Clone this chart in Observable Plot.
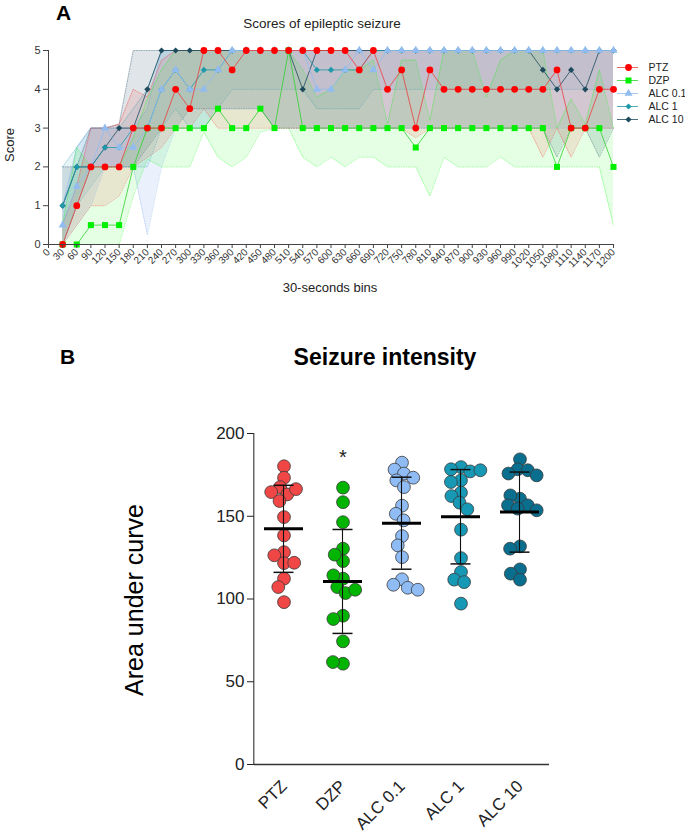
<!DOCTYPE html>
<html><head><meta charset="utf-8">
<script src="https://cdn.jsdelivr.net/npm/d3@7"></script>
<script src="https://cdn.jsdelivr.net/npm/@observablehq/plot@0.6"></script>
<style>
body{margin:0;background:#fff;font-family:"Liberation Sans",Arial,sans-serif;}
#wrap{position:relative;width:685px;height:839px;overflow:hidden;background:#fff;}
#wrap > *{position:absolute;}
</style></head><body><div id="wrap"></div>
<script>
// ---------------- DATA: panel A ----------------
const bins = [30,60,90,120,150,180,210,240,270,300,330,360,390,420,450,480,510,540,570,600,630,660,690,720,750,780,810,840,870,900,930,960,990,1020,1050,1080,1110,1140,1170,1200];
const binTicks = [0,30,60,90,120,150,180,210,240,270,300,330,360,390,420,450,480,510,540,570,600,630,660,690,720,750,780,810,840,870,900,930,960,990,1020,1050,1080,1110,1140,1170,1200];
const scoreTicks = [0,1,2,3,4,5];
const seriesNames = ["PTZ","DZP","ALC 0.1","ALC 1","ALC 10"];

const ptzMean = [0,1,2,2,2,3,3,3,4,3.5,5,5,4.5,5,5,5,5,5,5,5,5,4.5,5,4,4.5,3,4.5,4,4,4,4,4,4,4,4,4.5,3,3,4,4];
const ptzLo   = [0,0.5,1,1,1.25,2,2.25,2.5,3,3,3.5,3,3,3,3,3,3,3,3,3,3,3,3,3,3,2.75,3,3,3,3,3,3,3,3,2.25,3,2.25,3,3,3];
const ptzHi   = [0.5,1.5,3,3,3.1,4,3.8,4.75,5,5,5,5,5,5,5,5,5,5,5,5,5,5,5,5,5,5,5,5,5,5,5,5,5,5,5,5,5,5,5,5];

const dzpMean = [0,0,0.5,0.5,0.5,2,3,3,3,3,3,3.5,3,3,3.5,3,5,3,3,3,3,3,3,3,3,2.5,3,3,3,3,3,3,3,3,3,2,3,3,3,2];
const dzpLo   = [0,0,0,0,0,1.25,2.2,2,2,2,2.9,2.25,2,2.25,2.9,3,3,2.25,2,2.25,2,2.25,2.25,2,2,2,1.25,2.25,2,2,2,2.25,2,2,2,2,2,2,2,0.5];
const dzpHi   = [0.5,2.5,2,2,2,2.75,3.75,4.5,5,5,5,5,5,5,5,5,5,4.5,3.8,4,4.5,4.5,4.75,3.1,4.75,4.75,3.2,5,5,5,3.8,4.75,5,5,5,3,3.75,3.1,4.5,3];

const alc01Mean = [0.5,1.5,2,3,2.5,2.5,3,4,4.5,4,4,4.5,5,5,5,5,5,5,4,4,4.5,5,4.5,5,5,5,5,5,5,5,5,5,5,5,5,5,5,5,5,5];
const alc01Lo   = [0,0.5,1,2,2,2,0.25,2,3,3,3,3.5,3.5,3.5,3.5,3,3,3,3,3,3,3,3,3,3,3,3,3,3,3,3,3,3,3,3,3,3,3,3,3];
const alc01Hi   = [1,2.5,3,3,3,3,3.5,5,5,5,5,5,5,5,5,5,5,5,5,5,5,5,5,5,5,5,5,5,5,5,5,5,5,5,5,5,5,5,5,5];

const alc1Mean = [1,2,2,2.5,2.5,3,3,4,4.5,4,4.5,4.5,5,5,5,5,5,5,4.5,4.5,4.5,4.5,5,5,5,5,5,5,5,5,5,5,5,5,5,5,5,5,5,5];
const alc1Lo   = [0,1,1.5,2,2,2,2,3,3.5,3,3,3.5,4,4,4,4,4,4,3.5,3.5,3.5,3.5,4,4,4,4,4,4,4,4,4,4,4,4,4,4,4,4,4,4];
const alc1Hi   = [2,2.5,3,3,3,3.5,4,5,5,5,5,5,5,5,5,5,5,5,5,5,5,5,5,5,5,5,5,5,5,5,5,5,5,5,5,5,5,5,5,5];

const alc10Mean = [1,2,2,2.5,3,3,4,5,5,5,5,5,5,5,5,5,5,4,5,5,5,5,5,5,5,5,5,5,5,5,5,5,5,5,4.5,4,4.5,4,5,5];
const alc10Lo   = [0,1,2,2,2,2,2.5,3,3,3.5,3.5,3.5,3.5,3.5,3.5,3,3,3,3,3,3,3,3,3,3,3,3,3,3,3,3,3,3,3,3,2.25,3,3,2.25,3];
const alc10Hi   = [2,2,3,3,3.1,5,5,5,5,5,5,5,5,5,5,5,5,5,5,5,5,5,5,5,5,5,5,5,5,5,5,5,5,5,5,5,5,5,5,5];

// ---------------- DATA: panel B ----------------
const groups = ["PTZ","DZP","ALC 0.1","ALC 1","ALC 10"];
const aucPTZ  = [180.2,173.3,167.6,163.2,164.6,166.4,159.2,149.5,138.4,128.3,126.4,121.7,121.9,112.3,107.2,98.1];
const aucDZP  = [167.3,158.5,146.4,130.4,122.9,126.8,112.3,114.3,107.2,103.6,105.6,89.9,87.9,74.4,60.9,61.9];
const aucA01  = [182.4,178.2,175.8,173.3,171.7,167.6,156.4,151.5,147.5,138.0,132.4,125.3,111.9,108.6,106.8,105.6];
const aucA1   = [179.7,178.4,177.1,177.8,171.7,170.7,164.3,162.2,158.2,154.2,141.9,124.7,116.3,111.7,110.2,97.2];
const aucA10  = [184.4,178.4,177.8,175.8,174.7,160.6,162.6,156.6,156.6,154.6,153.6,131.8,130.4,117.9,115.3,111.7];
const aucMean = [142.4,110.6,145.8,149.7,152.5];
const aucSD   = [26.3,31.4,27.8,28.5,24.2];
const aucTicks = [0,50,100,150,200];
const sigGroup = ["DZP"];

// ---------------- styles ----------------
const FONT = '"Liberation Sans", Arial, sans-serif';
const sty = {
  "PTZ":     {dot:"#ff0000", line:"#e8403c", band:"#ff2020", op:0.11, symbol:"circle",   r:3.4},
  "DZP":     {dot:"#00f000", line:"#30d030", band:"#00ff00", op:0.10, symbol:"square",   r:3.4},
  "ALC 0.1": {dot:"#92bcef", line:"#92bcef", band:"#6f9fe8", op:0.15, symbol:"triangle", r:3.0},
  "ALC 1":   {dot:"#1f98aa", line:"#1f98aa", band:"#1f98aa", op:0.10, symbol:"diamond2", r:2.8},
  "ALC 10":  {dot:"#1d4a5c", line:"#1d4a5c", band:"#1d4a5c", op:0.14, symbol:"diamond2", r:2.8}
};
const bColors = ["#f04646","#00b400","#8fbcf5","#1798b4","#0a6f8f"];

// ---------------- tables ----------------
const seriesData = {
  "PTZ": [ptzMean, ptzLo, ptzHi],
  "DZP": [dzpMean, dzpLo, dzpHi],
  "ALC 0.1": [alc01Mean, alc01Lo, alc01Hi],
  "ALC 1": [alc1Mean, alc1Lo, alc1Hi],
  "ALC 10": [alc10Mean, alc10Lo, alc10Hi]
};
const rowsOf = s => bins.map((t,i)=>({s, t, mean: seriesData[s][0][i], lo: seriesData[s][1][i], hi: seriesData[s][2][i]}));
const drawOrder = ["ALC 10","ALC 1","ALC 0.1","DZP","PTZ"];

const marksA = [];
for (const s of drawOrder) marksA.push(Plot.areaY(rowsOf(s), {x:"t", y1:"lo", y2:"hi", fill: sty[s].band, fillOpacity: sty[s].op}));
for (const s of drawOrder) {
  marksA.push(Plot.line(rowsOf(s), {x:"t", y:"lo", stroke: sty[s].band, strokeOpacity:0.45, strokeWidth:0.8, strokeDasharray:"1,1.5"}));
  marksA.push(Plot.line(rowsOf(s), {x:"t", y:"hi", stroke: sty[s].band, strokeOpacity:0.45, strokeWidth:0.8, strokeDasharray:"1,1.5"}));
}
for (const s of drawOrder) {
  marksA.push(Plot.line(rowsOf(s), {x:"t", y:"mean", stroke: sty[s].line, strokeWidth:0.8}));
  marksA.push(Plot.dot(rowsOf(s), {x:"t", y:"mean", symbol: sty[s].symbol, r: sty[s].r, fill: sty[s].dot, stroke:"none"}));
}

const plotA = Plot.plot({
  width: 685, height: 300,
  marginLeft: 48, marginRight: 72, marginTop: 50, marginBottom: 56,
  x: {domain:[0,1200], axis:null},
  y: {domain:[0,5], axis:null},
  style: {fontFamily: FONT, color:"#333", background:"transparent"},
  marks: [
    ...marksA,
    Plot.ruleY([0], {stroke:"#444", strokeWidth:1}),
    Plot.ruleX([0], {stroke:"#444", strokeWidth:1}),
    Plot.axisX({ticks: binTicks, tickFormat: d=>String(d), tickRotate:-45, tickSize:4, tickPadding:2, fontSize:10, label:null, stroke:"#444"}),
    Plot.axisY({ticks: scoreTicks, tickFormat: d=>String(d), tickSize:5, tickPadding:3, fontSize:11, label:null, stroke:"#444"})
  ]
});
plotA.style.left = "0px"; plotA.style.top = "0px";

const legend = Plot.plot({
  width: 75, height: 100, marginLeft:0, marginRight:0, marginTop:10, marginBottom:23,
  y: {domain: seriesNames, type:"point", axis:null},
  style: {fontFamily: FONT, color:"#222", background:"transparent"},
  marks: seriesNames.map(s => [
    Plot.ruleY([s], {insetLeft:7, insetRight:47, stroke: sty[s].line, strokeWidth:0.8}),
    Plot.dot([s], {y: d=>d, frameAnchor:"left", dx:18, symbol: sty[s].symbol, r: sty[s].r, fill: sty[s].dot, stroke:"none"}),
    Plot.text([s], {y: d=>d, frameAnchor:"left", dx:38, text: d=>d, textAnchor:"start", fontSize:10.5})
  ])
});
legend.style.left = "610px"; legend.style.top = "49px";

// ---------------- panel B ----------------
const aucAll = [aucPTZ, aucDZP, aucA01, aucA1, aucA10];
const points = groups.flatMap((g,i)=>aucAll[i].map(v=>({g, v})));
const stats = groups.map((g,i)=>({g, mean: aucMean[i], sd: aucSD[i]}));
const sig = sigGroup.map(g=>({g, top: d3.max(aucAll[groups.indexOf(g)])}));
const band = 297 / groups.length; // facet cell width in px (layout)

// beeswarm: pack with a smaller radius so circles overlap like the original
const swarm = Plot.dodgeX("middle", {fx:"g", y:"v", r:4.6, padding:0, fill:"g", stroke:"#3a3a3a", strokeWidth:0.8});
swarm.r = 6.4;

const plotB = Plot.plot({
  width: 685, height: 539,
  marginLeft: 253, marginRight: 135, marginTop: 133, marginBottom: 75,
  fx: {domain: groups, padding: 0, label: null, axis: "bottom", tickRotate: -45, tickSize: 0, tickPadding: 19},
  y: {domain: [0,200], ticks: aucTicks, tickSize: 7, tickPadding: 3, label: null},
  color: {domain: groups, range: bColors},
  style: {fontFamily: FONT, fontSize: "17px", color:"#222", background:"transparent"},
  marks: [
    Plot.rect([groups[0]], {fx: d=>d, y1: ()=>aucTicks[0], y2: ()=>aucTicks[aucTicks.length-1], insetLeft:-0.75, insetRight: band - 0.75, fill:"#333"}),
    Plot.ruleY([0], {stroke:"#333", strokeWidth:1.5}),
    Plot.dot(points, swarm),
    Plot.rect(stats, {fx:"g", y1: d=>d.mean-d.sd, y2: d=>d.mean+d.sd, insetLeft: band/2 - 0.75, insetRight: band/2 - 0.75, fill:"#111"}),
    Plot.ruleY(stats, {fx:"g", y: d=>d.mean+d.sd, insetLeft:19.5, insetRight:19.5, stroke:"#111", strokeWidth:1.5}),
    Plot.ruleY(stats, {fx:"g", y: d=>d.mean-d.sd, insetLeft:19.5, insetRight:19.5, stroke:"#111", strokeWidth:1.5}),
    Plot.ruleY(stats, {fx:"g", y:"mean", insetLeft:10, insetRight:10, stroke:"#000", strokeWidth:3}),
    Plot.text(sig, {fx:"g", y:"top", text: ()=>"*", dy:-30, fontSize:20, fill:"#222"})
  ]
});
plotB.style.left = "0px"; plotB.style.top = "300px";

// ---------------- overlay texts ----------------
const ov = d3.create("svg").attr("width",685).attr("height",839)
  .style("left","0px").style("top","0px").style("pointer-events","none")
  .style("font-family", FONT);
const T = (x,y,txt,opt={}) => {
  const t = ov.append("text").attr("x",x).attr("y",y).text(txt)
    .attr("font-size", opt.size||12).attr("fill", opt.fill||"#222")
    .attr("text-anchor", opt.anchor||"start").attr("font-weight", opt.weight||"normal");
  if (opt.rotate) t.attr("transform", `rotate(${opt.rotate},${x},${y})`);
  return t;
};
T(56, 20, "A", {size:21, weight:"bold", fill:"#000"});
T(322, 28, "Scores of epileptic seizure", {size:13.5, anchor:"middle"});
T(14, 145, "Score", {size:13, anchor:"middle", rotate:-90});
T(330, 292, "30-seconds bins", {size:13, anchor:"middle"});
T(60, 364, "B", {size:21, weight:"bold", fill:"#000"});
T(385, 365, "Seizure intensity", {size:23, weight:"bold", anchor:"middle", fill:"#000"});
T(143, 600, "Area under curve", {size:25, anchor:"middle", rotate:-90, fill:"#000"});

const wrap = document.getElementById("wrap");
wrap.append(plotA, legend, plotB, ov.node());
</script></body></html>
